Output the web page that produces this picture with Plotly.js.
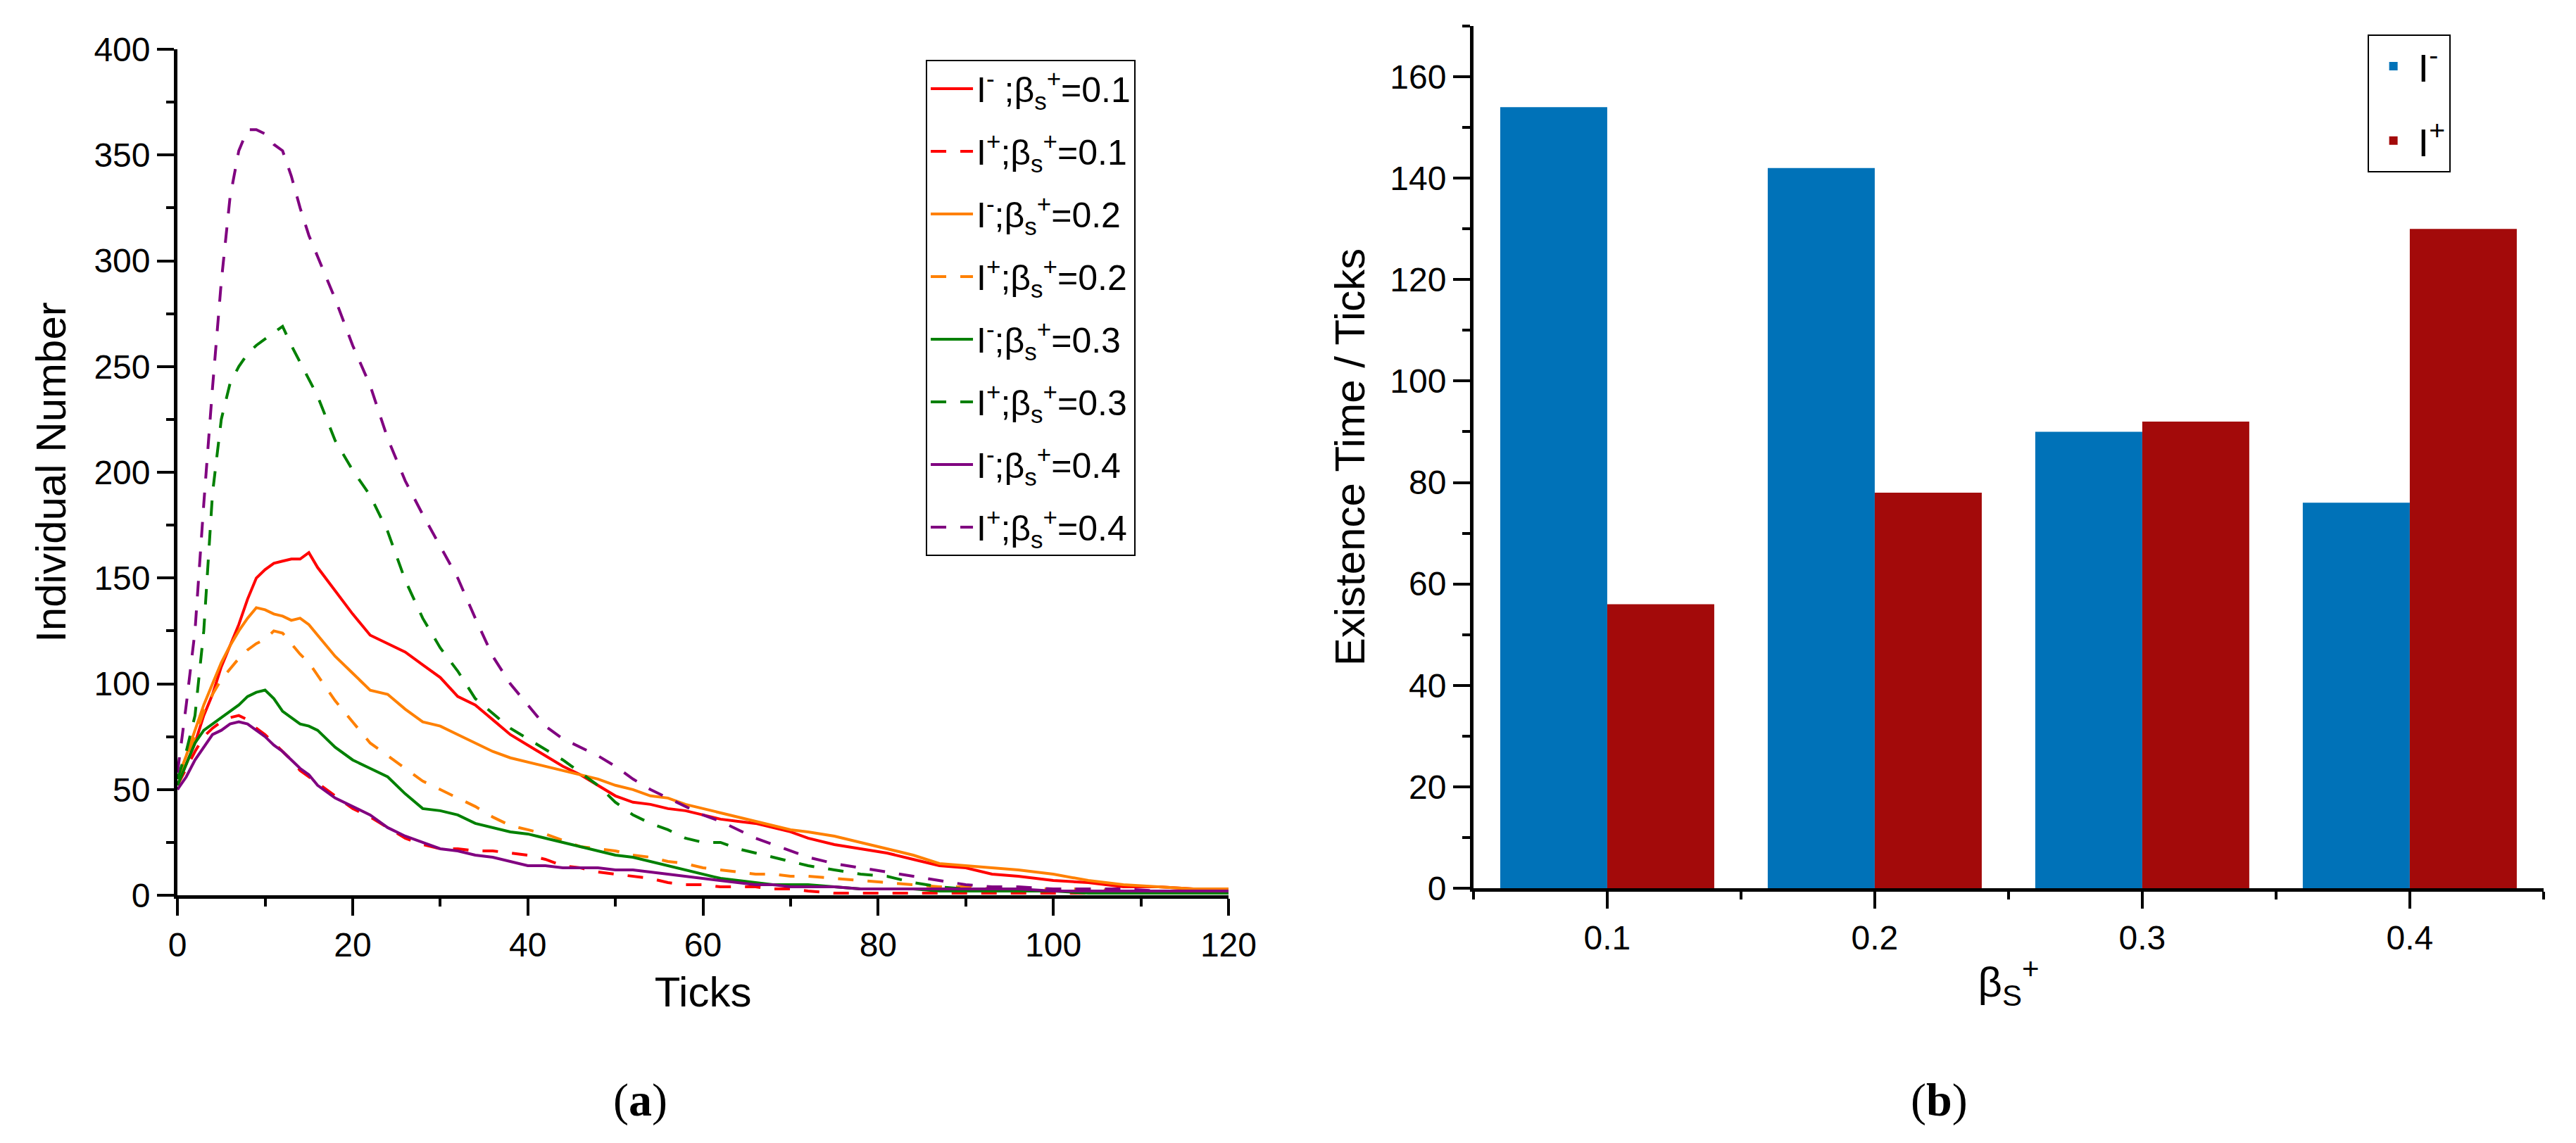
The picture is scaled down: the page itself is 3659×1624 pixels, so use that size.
<!DOCTYPE html>
<html>
<head>
<meta charset="utf-8">
<script src="https://cdn.plot.ly/plotly-3.0.1.min.js"></script>
<style>
  html, body { margin: 0; padding: 0; background: #ffffff; }
  #chart { width: 3659px; height: 1624px; }
</style>
</head>
<body>
<div id="chart"></div>
<script>
// (a) individual number against ticks
var ticks = [0, 1, 2, 3, 4, 5, 6, 7, 8, 9, 10, 11, 12, 13, 14, 15, 16, 18, 20, 22, 24, 26, 28, 30, 32, 34, 36, 38, 40,
    42, 44, 46, 48, 50, 52, 54, 56, 58, 60, 62, 64, 66, 68, 70, 72, 75, 78, 81, 84, 87, 90, 93, 96, 100, 104, 108, 112, 116, 120];

var iMinus01 = [52, 62, 72, 85, 95, 108, 118, 128, 140, 150, 154, 157, 158, 159, 159, 162, 155, 144, 133, 123, 119, 115, 109, 103, 94, 90, 83, 76, 71,
    66, 61, 57, 52, 47, 44, 43, 41, 40, 38, 36, 35, 34, 32, 30, 27, 24, 22, 20, 17, 14, 13, 10, 9, 7, 6, 4, 4, 3, 3];
var iPlus01 = [52, 60, 68, 75, 79, 82, 84, 85, 83, 79, 76, 72, 68, 64, 59, 56, 53, 47, 41, 37, 32, 27, 24, 22, 22, 21, 21, 20, 19,
    17, 14, 13, 11, 10, 9, 8, 6, 5, 5, 4, 4, 4, 3, 3, 2, 1, 1, 1, 1, 1, 1, 1, 1, 1, 1, 1, 1, 1, 1];
var iMinus02 = [55, 66, 78, 90, 100, 110, 118, 125, 131, 136, 135, 133, 132, 130, 131, 128, 123, 113, 105, 97, 95, 88, 82, 80, 76, 72, 68, 65, 63,
    61, 59, 57, 55, 52, 50, 47, 46, 43, 41, 39, 37, 35, 33, 31, 30, 28, 25, 22, 19, 15, 14, 13, 12, 10, 7, 5, 4, 3, 3];
var iPlus02 = [55, 65, 75, 87, 95, 102, 107, 112, 116, 119, 121, 125, 124, 119, 114, 110, 104, 92, 82, 72, 66, 60, 54, 50, 46, 42, 37, 33, 31,
    29, 26, 23, 22, 21, 19, 18, 16, 15, 13, 12, 11, 10, 10, 9, 9, 8, 7, 6, 5, 4, 4, 3, 3, 3, 3, 2, 2, 2, 2];
var iMinus03 = [52, 62, 72, 78, 81, 84, 87, 90, 94, 96, 97, 93, 87, 84, 81, 80, 78, 70, 64, 60, 56, 48, 41, 40, 38, 34, 32, 30, 29,
    27, 25, 23, 21, 19, 18, 16, 14, 12, 10, 8, 7, 6, 5, 5, 5, 4, 3, 3, 3, 2, 2, 2, 2, 2, 1, 1, 1, 1, 1];
var iPlus03 = [55, 68, 85, 125, 190, 225, 242, 250, 256, 260, 263, 266, 269, 260, 252, 244, 236, 215, 201, 189, 172, 149, 131, 117, 106, 93, 86, 79, 74,
    69, 64, 58, 52, 44, 38, 34, 31, 27, 25, 25, 22, 20, 18, 16, 14, 12, 10, 9, 6, 4, 3, 3, 2, 2, 2, 2, 2, 2, 2];
var iMinus04 = [50, 56, 64, 70, 76, 78, 81, 82, 81, 78, 75, 71, 68, 64, 60, 57, 52, 46, 42, 38, 32, 28, 25, 22, 21, 19, 18, 16, 14,
    14, 13, 13, 13, 12, 12, 11, 10, 9, 8, 7, 6, 5, 5, 4, 4, 4, 3, 3, 3, 3, 3, 3, 3, 2, 2, 2, 2, 2, 2];
var iPlus04 = [58, 90, 125, 185, 240, 290, 330, 352, 362, 362, 360, 355, 352, 340, 325, 312, 302, 282, 260, 241, 216, 196, 180, 165, 150, 131, 113, 100, 90,
    80, 74, 70, 66, 61, 55, 50, 46, 42, 38, 35, 31, 27, 24, 21, 18, 15, 13, 11, 9, 7, 5, 4, 4, 3, 3, 3, 2, 2, 2];

var lineNames = ['I<sup>-</sup> ;β<sub>s</sub><sup>+</sup>=0.1', 'I<sup>+</sup>;β<sub>s</sub><sup>+</sup>=0.1',
    'I<sup>-</sup>;β<sub>s</sub><sup>+</sup>=0.2', 'I<sup>+</sup>;β<sub>s</sub><sup>+</sup>=0.2',
    'I<sup>-</sup>;β<sub>s</sub><sup>+</sup>=0.3', 'I<sup>+</sup>;β<sub>s</sub><sup>+</sup>=0.3',
    'I<sup>-</sup>;β<sub>s</sub><sup>+</sup>=0.4', 'I<sup>+</sup>;β<sub>s</sub><sup>+</sup>=0.4'];
var lineSeries = [iMinus01, iPlus01, iMinus02, iPlus02, iMinus03, iPlus03, iMinus04, iPlus04];
var lineColors = ['#ff0000', '#ff0000', '#ff8000', '#ff8000', '#008000', '#008000', '#800080', '#800080'];

// (b) existence time of each population
var betaS = [0.1, 0.2, 0.3, 0.4];
var betaLabels = ['0.1', '0.2', '0.3', '0.4'];
var timeMinus = [154, 142, 90, 76];
var timePlus = [56, 78, 92, 130];

var FONT = 'Liberation Sans, Arial, sans-serif';

var traces = [];
for (var i = 0; i < lineSeries.length; i++) {
    traces.push({
        type: 'scatter',
        mode: 'lines',
        name: lineNames[i],
        x: ticks,
        y: lineSeries[i],
        xaxis: 'x',
        yaxis: 'y',
        legend: 'legend',
        legendgroup: 'g' + i,
        line: {
            color: lineColors[i],
            width: 4,
            dash: (i % 2 === 1) ? '22px,20px' : 'solid'
        }
    });
}

traces.push({
    type: 'bar',
    name: 'I<sup>-</sup>',
    x: betaS,
    y: timeMinus,
    xaxis: 'x2',
    yaxis: 'y2',
    legend: 'legend2',
    legendgroup: 'b0',
    marker: { color: '#0072b8', line: { width: 0 } }
});
traces.push({
    type: 'bar',
    name: 'I<sup>+</sup>',
    x: betaS,
    y: timePlus,
    xaxis: 'x2',
    yaxis: 'y2',
    legend: 'legend2',
    legendgroup: 'b1',
    marker: { color: '#a30a0a', line: { width: 0 } }
});

function axisStyle(extra) {
    var a = {
        showline: true,
        linecolor: '#000000',
        linewidth: 5,
        showgrid: false,
        zeroline: false,
        ticks: 'outside',
        ticklen: 24,
        tickwidth: 4,
        tickcolor: '#000000',
        tickfont: { family: FONT, size: 48, color: '#000000' },
        fixedrange: true
    };
    for (var k in extra) a[k] = extra[k];
    return a;
}

var layout = {
    width: 3659,
    height: 1624,
    margin: { l: 0, r: 0, t: 0, b: 0 },
    paper_bgcolor: '#ffffff',
    plot_bgcolor: '#ffffff',
    barmode: 'group',
    bargap: 0.2,
    bargroupgap: 0,
    font: { family: FONT, size: 48, color: '#000000' },

    xaxis: axisStyle({
        domain: [0.0689, 0.4769],
        anchor: 'y',
        range: [0, 120],
        dtick: 20,
        minor: { dtick: 10, ticks: 'outside', ticklen: 11, tickwidth: 4, tickcolor: '#000000' },
        title: { text: 'Ticks', font: { family: FONT, size: 60 }, standoff: 22 }
    }),
    yaxis: axisStyle({
        domain: [0.2167, 0.9569],
        anchor: 'x',
        range: [0, 400],
        dtick: 50,
        minor: { dtick: 25, ticks: 'outside', ticklen: 11, tickwidth: 4, tickcolor: '#000000' },
        title: { text: 'Individual Number', font: { family: FONT, size: 60 }, standoff: 22 }
    }),
    xaxis2: axisStyle({
        domain: [0.5720, 0.9874],
        anchor: 'y2',
        range: [0.05, 0.45],
        tickvals: betaS,
        ticktext: betaLabels,
        minor: { tick0: 0.05, dtick: 0.1, ticks: 'outside', ticklen: 11, tickwidth: 4, tickcolor: '#000000' },
        title: { text: 'β<sub>S</sub><sup>+</sup>', font: { family: FONT, size: 60 }, standoff: 18 }
    }),
    yaxis2: axisStyle({
        domain: [0.2229, 0.9772],
        anchor: 'x2',
        range: [0, 170],
        dtick: 20,
        minor: { dtick: 10, ticks: 'outside', ticklen: 11, tickwidth: 4, tickcolor: '#000000' },
        title: { text: 'Existence Time / Ticks', font: { family: FONT, size: 60 }, standoff: 18 }
    }),

    legend: {
        x: 0.3594,
        y: 0.9477,
        xanchor: 'left',
        yanchor: 'top',
        bgcolor: '#ffffff',
        bordercolor: '#000000',
        borderwidth: 2,
        font: { family: FONT, size: 50, color: '#000000' },
        traceorder: 'grouped',
        tracegroupgap: 21,
        itemwidth: 60
    },
    legend2: {
        x: 0.919,
        y: 0.9698,
        xanchor: 'left',
        yanchor: 'top',
        bgcolor: '#ffffff',
        bordercolor: '#000000',
        borderwidth: 2,
        font: { family: FONT, size: 56, color: '#000000' },
        traceorder: 'grouped',
        tracegroupgap: 30,
        itemwidth: 60
    },
    showlegend: true,

    annotations: [{
        xref: 'paper', yref: 'paper',
        x: 0.2487, y: 0.0376,
        xanchor: 'center', yanchor: 'middle',
        text: '(<b>a</b>)',
        showarrow: false,
        font: { family: 'Liberation Serif, Times New Roman, serif', size: 66, color: '#000000' }
    }, {
        xref: 'paper', yref: 'paper',
        x: 0.7527, y: 0.0376,
        xanchor: 'center', yanchor: 'middle',
        text: '(<b>b</b>)',
        showarrow: false,
        font: { family: 'Liberation Serif, Times New Roman, serif', size: 66, color: '#000000' }
    }]
};

Plotly.newPlot('chart', traces, layout, { staticPlot: true });
</script>
</body>
</html>
